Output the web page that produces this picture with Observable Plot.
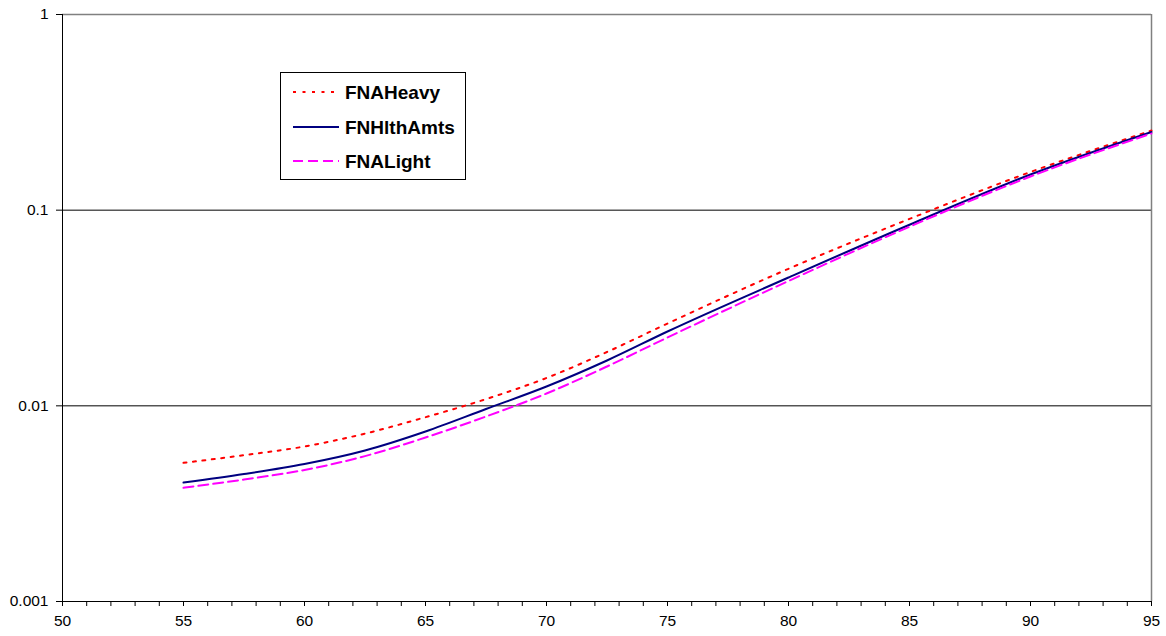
<!DOCTYPE html>
<html>
<head>
<meta charset="utf-8">
<script src="https://cdn.jsdelivr.net/npm/d3@7"></script>
<script src="https://cdn.jsdelivr.net/npm/@observablehq/plot@0.6"></script>
<style>
  html, body { margin: 0; padding: 0; background: #fff; }
  #wrap { position: relative; width: 1166px; height: 636px; }
  #wrap svg.chart, #wrap svg.chart g, #wrap svg.chart text {
    font-family: "Liberation Sans", Arial, sans-serif !important;
    font-size: 15.5px !important;
  }
  #legend { position: absolute; left: 280px; top: 72px; width: 184px; height: 106px;
            border: 1px solid #000; background: #fff; }
</style>
</head>
<body>
<div id="wrap"></div>
<script>
// Data
const ages = [55, 57.5, 60, 62.5, 65, 67.5, 70, 72.5, 75, 80, 85, 90, 95];
const fnaHeavy   = [0.005115, 0.005594, 0.006197, 0.007212, 0.008748, 0.01082, 0.01388, 0.01884, 0.02635, 0.05016, 0.09023, 0.1567, 0.2553];
const fnHlthAmts = [0.004057, 0.004484, 0.005043, 0.005912, 0.007393, 0.009634, 0.012554, 0.01705, 0.02398, 0.04527, 0.08427, 0.1521, 0.2509];
const fnaLight   = [0.003811, 0.004202, 0.0047, 0.005535, 0.006889, 0.00882, 0.01156, 0.01589, 0.02235, 0.04345, 0.08231, 0.1486, 0.2465];
const seriesNames = ["FNAHeavy", "FNHlthAmts", "FNALight"];
const yTicks = [0.001, 0.01, 0.1, 1];
const xTicksMajor = [50, 55, 60, 65, 70, 75, 80, 85, 90, 95];
const xTicksMinor = d3.range(50, 96, 1);

const styles = {
  FNAHeavy:   {stroke: "#ff0000", dash: "3,6.5"},
  FNHlthAmts: {stroke: "#000080", dash: null},
  FNALight:   {stroke: "#ff00ff", dash: "10,5"}
};
const valuesBy = {FNAHeavy: fnaHeavy, FNHlthAmts: fnHlthAmts, FNALight: fnaLight};
const table = seriesNames.map(name => ages.map((a, i) => ({age: a, value: valuesBy[name][i], series: name})));

const lineMarks = seriesNames.map((name, k) => Plot.line(table[k], {
  x: "age", y: "value", stroke: styles[name].stroke, strokeWidth: 2,
  strokeDasharray: styles[name].dash, curve: "monotone-x"
}));

const FONT = "'Liberation Sans', Arial, sans-serif";
const chart = Plot.plot({
  width: 1166, height: 636,
  marginLeft: 62, marginRight: 15, marginTop: 14, marginBottom: 35,
  style: {fontFamily: FONT, fontSize: "15.5px", color: "#000", background: "#fff"},
  x: {domain: [50, 95]},
  y: {type: "log", domain: [0.001, 1]},
  marks: [
    Plot.ruleY([0.01, 0.1], {stroke: "#000", strokeWidth: 1}),
    Plot.ruleY([1], {stroke: "#808080", strokeWidth: 1.5}),
    Plot.ruleX([95], {stroke: "#808080", strokeWidth: 1.5}),
    Plot.ruleX([50], {stroke: "#000", strokeWidth: 1}),
    Plot.ruleY([0.001], {stroke: "#000", strokeWidth: 1}),
    Plot.axisX({ticks: xTicksMinor, tickSize: 5, tickPadding: 8,
                tickFormat: d => xTicksMajor.includes(d) ? String(d) : "", label: null}),
    Plot.axisY({ticks: yTicks, tickSize: 6, tickPadding: 8,
                tickFormat: d => String(d), label: null}),
    ...lineMarks
  ]
});
chart.classList.add("chart");
const wrap = document.getElementById("wrap");
wrap.appendChild(chart);

// Legend overlay
const legend = document.createElement("div");
legend.id = "legend";
const rowsY = [19, 54, 88];
let html = '<svg width="184" height="106" style="position:absolute;left:0;top:0">';
seriesNames.forEach((name, i) => {
  const s = styles[name];
  html += `<line x1="12" x2="58" y1="${rowsY[i]}" y2="${rowsY[i]}" stroke="${s.stroke}" stroke-width="2" ${s.dash ? `stroke-dasharray="${s.dash}"` : ""}/>`;
  html += `<text x="64" y="${rowsY[i] + 7}" font-family="Liberation Sans, Arial, sans-serif" font-weight="bold" font-size="19" fill="#000">${name}</text>`;
});
html += '</svg>';
legend.innerHTML = html;
wrap.appendChild(legend);
</script>
</body>
</html>
